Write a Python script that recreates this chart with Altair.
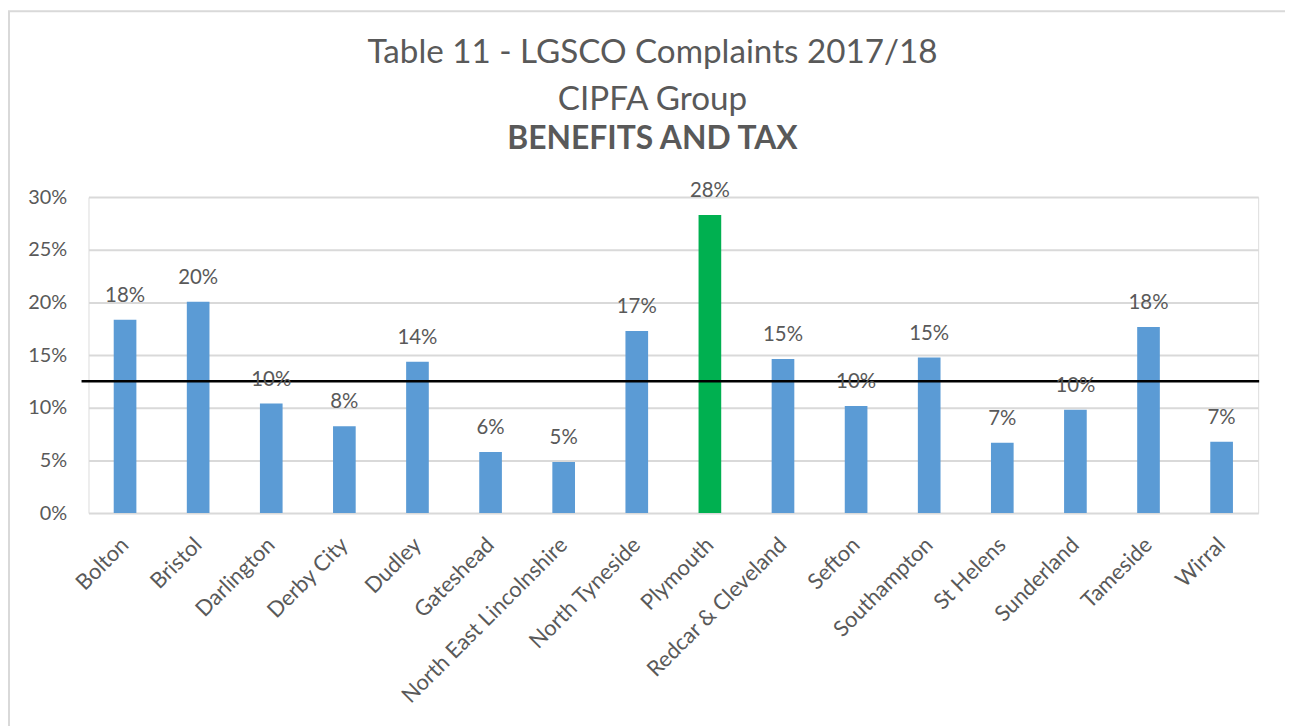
import altair as alt
import pandas as pd

councils = ["Bolton", "Bristol", "Darlington", "Derby City", "Dudley", "Gateshead",
            "North East Lincolnshire", "North Tyneside", "Plymouth", "Redcar & Cleveland",
            "Sefton", "Southampton", "St Helens", "Sunderland", "Tameside", "Wirral"]
shares = [0.1836, 0.2006, 0.1041, 0.0825, 0.1437, 0.0580, 0.0486, 0.1729,
          0.2830, 0.1462, 0.1017, 0.1478, 0.0668, 0.0982, 0.1766, 0.0678]
highlighted = "Plymouth"
average_share = [0.1252]
y_ticks = [0, 0.05, 0.10, 0.15, 0.20, 0.25, 0.30]

df = pd.DataFrame({
    "council": councils,
    "share": shares,
    "group": ["Plymouth" if c == highlighted else "Other" for c in councils],
})

W, H = 1177, 318
FONT = "Lato"
GREY = "#595959"

x = alt.X("council:N", sort=None,
          scale=alt.Scale(paddingInner=0.69, paddingOuter=0.345),
          axis=alt.Axis(title=None, labelAngle=-45, labelAlign="right", labelBaseline="middle",
                        labelFontSize=22, labelFont=FONT, labelColor=GREY, labelPadding=28,
                        domain=False, ticks=False, grid=False, labelLimit=400))
y = alt.Y("share:Q", scale=alt.Scale(domain=[0, 0.3], nice=False),
          axis=alt.Axis(title=None, format=".0%", values=y_ticks, labelFontSize=20,
                        labelFont=FONT, labelColor=GREY, labelPadding=22,
                        domain=False, ticks=False, gridColor="#D9D9D9", gridWidth=2))

bars = alt.Chart(df).mark_bar().encode(
    x=x, y=y,
    color=alt.Color("group:N", scale=alt.Scale(domain=["Other", "Plymouth"],
                                               range=["#5B9BD5", "#00B050"]), legend=None),
)

labels = alt.Chart(df).mark_text(dy=-18, baseline="alphabetic", fontSize=20.5, font=FONT,
                                 color=GREY).encode(
    x=x, y=y, text=alt.Text("share:Q", format=".0%"))

avg = alt.Chart(pd.DataFrame({"avg": average_share})).mark_rule(
    color="black", strokeWidth=2.5).encode(
    y=alt.Y("avg:Q"), x=alt.value(-7), x2=alt.value(W + 1))

frame_left = alt.Chart(pd.DataFrame({"k": [0]})).mark_rule(color="#D9D9D9", strokeWidth=2).encode(
    x=alt.value(-80), y=alt.value(-187), y2=alt.value(H + 220))
frame_top = alt.Chart(pd.DataFrame({"k": [0]})).mark_rule(color="#D9D9D9", strokeWidth=2).encode(
    x=alt.value(-81), x2=alt.value(W + 40), y=alt.value(-187))

chart = alt.layer(frame_left, frame_top, bars, avg, labels).properties(
    width=W, height=H,
    autosize=alt.AutoSizeParams(type="none"),
    padding={"left": 81, "top": 188, "right": 27, "bottom": 212},
    title=alt.TitleParams(
        text=["Table 11 - LGSCO Complaints 2017/18", "CIPFA Group"],
        subtitle="BENEFITS AND TAX",
        font=FONT, fontSize=33.4, fontWeight="normal", color=GREY, lineHeight=48,
        subtitleFont=FONT, subtitleFontSize=32, subtitleFontWeight="bold",
        subtitleColor=GREY, subtitlePadding=7,
        anchor="middle", dx=-21, offset=-147),
).configure_view(stroke=None).configure(background="white")

chart.save("out.html", embed_options={"renderer": "svg", "actions": False})
